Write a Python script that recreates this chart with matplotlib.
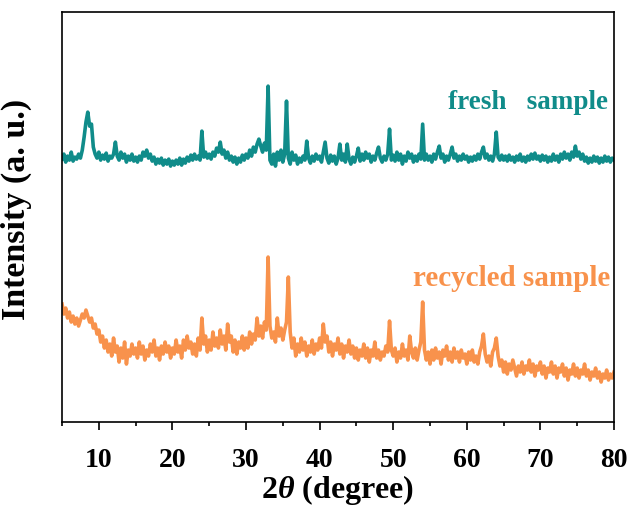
import numpy as np
import matplotlib.pyplot as plt

plt.rcParams['font.family'] = ['Liberation Serif', 'DejaVu Serif']
plt.rcParams['mathtext.fontset'] = 'custom'
plt.rcParams['mathtext.it'] = 'Liberation Serif:italic:bold'
plt.rcParams['mathtext.rm'] = 'Liberation Serif:bold'

# 2theta grid, 0.25 degree steps from 5 to 80
two_theta = np.arange(5, 80.01, 0.25)

# fresh sample intensity (a. u.)
fresh = [
    263, 268, 260, 266, 262, 270, 261, 265, 263, 268, 264, 272, 285, 300, 310, 296, 298, 275, 268, 264,
    270, 262, 267, 263, 269, 261, 266, 264, 268, 280, 266, 262, 270, 264, 268, 260, 266, 262, 268, 261,
    265, 260, 266, 262, 270, 266, 272, 264, 268, 261, 265, 258, 263, 259, 264, 257, 262, 258, 263, 256,
    261, 257, 262, 258, 264, 257, 263, 259, 265, 261, 267, 262, 268, 263, 266, 262, 291, 265, 270, 264,
    268, 263, 270, 266, 274, 270, 280, 268, 272, 264, 270, 262, 266, 260, 265, 258, 264, 260, 267, 262,
    268, 264, 272, 266, 275, 270, 278, 283, 276, 270, 279, 272, 336, 262, 258, 268, 256, 270, 262, 272,
    260, 268, 321, 264, 258, 270, 262, 267, 258, 264, 260, 266, 262, 281, 264, 259, 266, 261, 268, 263,
    266, 260, 270, 280, 264, 259, 267, 261, 266, 258, 264, 278, 262, 268, 260, 278, 263, 258, 265, 260,
    266, 274, 261, 268, 262, 270, 264, 268, 260, 266, 262, 269, 275, 264, 260, 266, 262, 268, 293, 262,
    267, 261, 270, 262, 268, 258, 266, 261, 270, 264, 268, 260, 266, 261, 268, 263, 298, 262, 268, 262,
    266, 260, 268, 263, 270, 276, 264, 268, 260, 266, 262, 268, 275, 264, 268, 261, 266, 262, 268, 263,
    266, 260, 265, 261, 266, 262, 268, 263, 270, 275, 264, 268, 262, 266, 261, 268, 290, 265, 262, 267,
    262, 266, 261, 267, 262, 265, 260, 266, 262, 268, 261, 265, 260, 266, 262, 268, 263, 269, 263, 266,
    261, 267, 262, 266, 260, 265, 261, 268, 262, 266, 260, 268, 263, 270, 264, 268, 262, 270, 265, 276,
    266, 270, 263, 268, 261, 265, 259, 264, 260, 266, 261, 265, 259, 264, 260, 266, 261, 265, 260, 264,
    262,
]

# recycled sample intensity (a. u.)
recycled = [
    118, 108, 114, 104, 110, 100, 106, 98, 104, 96, 102, 108, 104, 112, 106, 100, 104, 94, 98, 88,
    92, 80, 86, 74, 82, 70, 78, 66, 84, 70, 76, 60, 74, 64, 80, 58, 72, 66, 78, 68,
    74, 64, 80, 68, 76, 62, 72, 66, 78, 70, 82, 66, 74, 62, 76, 68, 80, 70, 76, 64,
    74, 68, 82, 70, 76, 64, 82, 72, 86, 74, 80, 68, 78, 66, 84, 72, 104, 78, 86, 70,
    82, 72, 90, 76, 84, 74, 92, 78, 86, 72, 98, 80, 86, 70, 82, 68, 80, 74, 86, 72,
    84, 74, 90, 78, 88, 82, 104, 86, 96, 84, 100, 92, 165, 96, 84, 90, 80, 104, 86, 94,
    82, 92, 100, 145, 90, 74, 84, 66, 78, 70, 84, 72, 80, 66, 76, 70, 82, 68, 78, 72,
    84, 74, 98, 80, 86, 70, 80, 66, 78, 72, 84, 68, 78, 64, 76, 70, 82, 68, 76, 64,
    74, 62, 72, 66, 78, 64, 74, 60, 72, 66, 80, 64, 72, 62, 70, 66, 76, 70, 101, 72,
    66, 74, 60, 70, 64, 78, 66, 72, 62, 86, 70, 64, 74, 62, 72, 80, 120, 72, 62, 70,
    58, 72, 62, 74, 64, 70, 58, 72, 66, 76, 62, 70, 60, 74, 64, 70, 60, 72, 64, 68,
    58, 70, 62, 72, 60, 66, 58, 70, 76, 88, 68, 60, 66, 56, 70, 74, 84, 66, 56, 62,
    50, 60, 48, 58, 52, 62, 54, 46, 56, 50, 60, 48, 56, 52, 62, 50, 58, 46, 56, 52,
    60, 48, 56, 44, 54, 50, 60, 48, 56, 44, 54, 50, 58, 46, 54, 42, 52, 48, 58, 46,
    54, 44, 52, 48, 58, 46, 52, 42, 50, 46, 54, 44, 50, 40, 48, 44, 52, 42, 48, 44,
    50,
]

teal = '#108C8A'
orange = '#F8924C'

fig = plt.figure(figsize=(6.33, 5.06), dpi=100)
ax = fig.add_axes([0.098, 0.164, 0.872, 0.810])

ax.plot(two_theta, fresh, color=teal, lw=2.6)
ax.plot(two_theta, recycled, color=orange, lw=2.6)

ax.text(79.2, 321, 'fresh   sample', color=teal, fontsize=19.5,
        fontweight='bold', ha='right', va='center')
ax.text(79.5, 145, 'recycled sample', color=orange, fontsize=21,
        fontweight='bold', ha='right', va='center')

ax.set_xlim(5, 80)
ax.set_ylim(0, 410)
ax.set_xticks(range(10, 81, 10))
ax.set_xticks(range(5, 81, 5), minor=True)
ax.set_yticks([])
ax.tick_params(axis='x', which='major', length=6, width=1.2, labelsize=20, pad=12)
ax.tick_params(axis='x', which='minor', length=3, width=1.2)
for lab in ax.get_xticklabels():
    lab.set_fontweight('bold')
for sp in ax.spines.values():
    sp.set_linewidth(1.2)

ax.set_xlabel(r'2$\theta$ (degree)', fontsize=23, fontweight='bold', labelpad=0)
ax.set_ylabel('Intensity (a. u.)', fontsize=24.5, fontweight='bold')
ax.yaxis.set_label_coords(-0.055, 0.52)

fig.savefig('out.png', dpi=100)
